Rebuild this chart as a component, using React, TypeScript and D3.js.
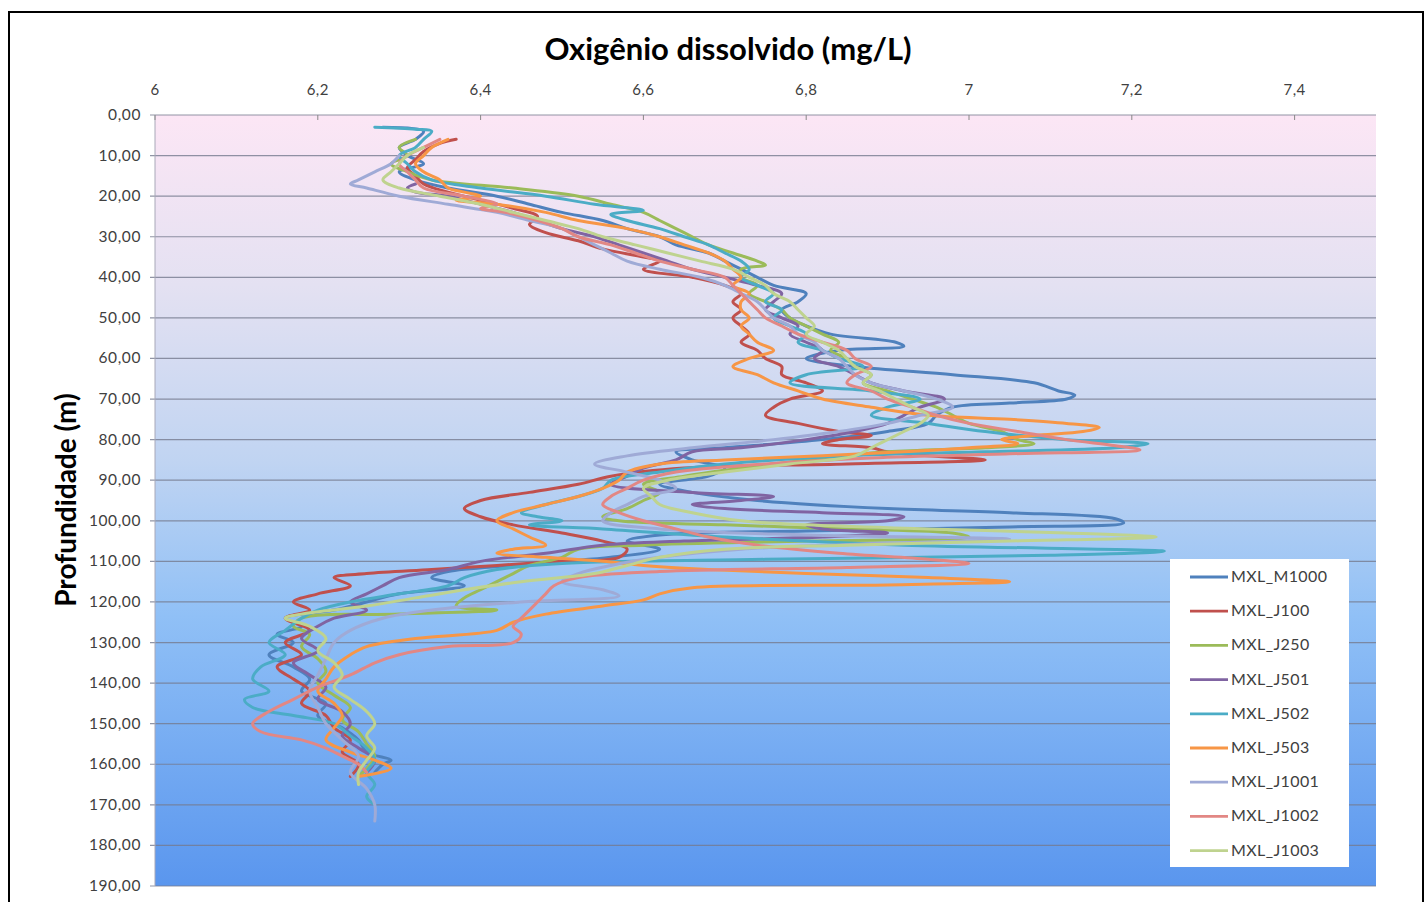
import React from "react";
import * as d3 from "d3";

// Dissolved-oxygen profiles: [depth (m), DO (mg/L)]
const mxlM1000: [number, number][] = [[3,6.28],[4,6.33],[6,6.32],[8,6.30],[10,6.31],[12,6.33],[14,6.30],[16,6.32],[18,6.36],[20,6.42],[22,6.46],[24,6.50],[26,6.55],[28,6.58],[30,6.62],[32,6.64],[34,6.68],[36,6.70],[38,6.72],[40,6.74],[42,6.76],[44,6.80],[46,6.79],[48,6.77],[50,6.78],[52,6.80],[54,6.83],[56,6.91],[57,6.92],[58,6.84],[60,6.80],[62,6.86],[64,6.98],[66,7.08],[68,7.11],[69,7.13],[70,7.12],[71,7.05],[72,6.98],[74,6.96],[76,6.95],[78,6.90],[80,6.82],[82,6.70],[83,6.64],[85,6.66],[87,6.70],[89,6.68],[91,6.62],[93,6.66],[95,6.74],[97,6.90],[98,7.05],[99.5,7.18],[100.5,7.19],[101.5,7.05],[102.5,6.80],[103.5,6.62],[105,6.58],[107,6.62],[109,6.56],[110,6.50],[111,6.44],[112.5,6.36],[114,6.34],[116,6.38],[118,6.30],[120,6.26],[122,6.22],[124,6.16],[126,6.18],[128,6.15],[130,6.17],[133,6.14],[136,6.17],[139,6.19],[142,6.18],[145,6.21],[148,6.20],[151,6.23],[154,6.25],[157,6.26],[159,6.29],[160,6.28],[162,6.27]];
const mxlJ100: [number, number][] = [[6,6.37],[7,6.35],[9,6.33],[11,6.32],[13,6.31],[15,6.32],[17,6.33],[19,6.36],[21,6.40],[23,6.44],[25,6.47],[27,6.46],[29,6.48],[31,6.52],[33,6.55],[35,6.60],[36,6.62],[38,6.60],[40,6.66],[42,6.70],[44,6.72],[46,6.71],[48,6.72],[50,6.71],[52,6.72],[54,6.73],[56,6.72],[58,6.74],[60,6.75],[62,6.77],[64,6.77],[66,6.80],[68,6.82],[70,6.78],[72,6.76],[74,6.75],[76,6.79],[78,6.84],[79,6.88],[80,6.84],[81,6.82],[82,6.88],[83,6.90],[84,6.95],[85,7.02],[86,6.85],[87,6.65],[89,6.56],[91,6.52],[93,6.46],[95,6.40],[97,6.38],[99,6.40],[101,6.44],[103,6.50],[105,6.55],[107,6.58],[109,6.57],[110,6.50],[111,6.42],[112,6.34],[113,6.26],[114,6.22],[116,6.24],[118,6.20],[120,6.17],[122,6.19],[124,6.16],[127,6.19],[130,6.16],[133,6.18],[136,6.15],[139,6.17],[142,6.19],[145,6.18],[148,6.21],[151,6.22],[154,6.24],[157,6.23],[160,6.25],[163,6.24]];
const mxlJ250: [number, number][] = [[6,6.32],[8,6.30],[10,6.31],[12,6.29],[14,6.31],[16,6.34],[18,6.44],[20,6.52],[22,6.56],[24,6.60],[26,6.62],[28,6.64],[30,6.66],[32,6.68],[34,6.71],[36,6.74],[37,6.75],[38,6.72],[40,6.72],[42,6.74],[44,6.73],[46,6.75],[48,6.77],[50,6.78],[52,6.80],[54,6.82],[56,6.84],[58,6.83],[60,6.85],[62,6.86],[64,6.88],[66,6.87],[68,6.90],[70,6.93],[72,6.96],[74,6.98],[76,7.00],[78,7.04],[80,7.06],[81,7.08],[82,7.02],[83,6.90],[85,6.80],[87,6.72],[89,6.65],[91,6.60],[93,6.62],[95,6.60],[97,6.58],[99,6.55],[100,6.57],[101,6.70],[102,6.85],[103,6.98],[104,7.00],[105,6.80],[106,6.60],[107,6.52],[109,6.50],[111,6.46],[113,6.44],[115,6.42],[117,6.40],[119,6.38],[121,6.37],[122,6.42],[123,6.30],[124,6.18],[126,6.17],[128,6.19],[131,6.18],[134,6.20],[137,6.21],[140,6.20],[143,6.22],[146,6.24],[149,6.23],[152,6.25],[155,6.26],[158,6.27],[161,6.26],[163,6.25]];
const mxlJ501: [number, number][] = [[17,6.32],[18,6.31],[19,6.32],[20,6.36],[22,6.40],[24,6.44],[26,6.47],[28,6.50],[30,6.54],[32,6.57],[34,6.60],[36,6.63],[38,6.66],[40,6.70],[42,6.74],[44,6.77],[46,6.76],[48,6.75],[50,6.77],[52,6.79],[54,6.78],[56,6.80],[58,6.82],[60,6.81],[62,6.84],[64,6.86],[66,6.88],[68,6.92],[70,6.97],[72,6.94],[74,6.92],[76,6.90],[78,6.86],[80,6.80],[82,6.72],[83,6.66],[85,6.64],[87,6.60],[89,6.58],[91,6.56],[93,6.66],[94,6.76],[95,6.72],[96,6.66],[97,6.70],[98,6.82],[99,6.92],[100,6.90],[101,6.80],[102,6.82],[103,6.90],[104,6.82],[105,6.65],[106,6.55],[108,6.48],[110,6.40],[112,6.36],[114,6.30],[116,6.28],[118,6.26],[120,6.24],[122,6.26],[124,6.22],[126,6.20],[129,6.18],[132,6.20],[135,6.17],[138,6.19],[141,6.21],[144,6.20],[147,6.23],[150,6.24],[153,6.23],[156,6.25],[159,6.27],[162,6.26]];
const mxlJ502: [number, number][] = [[3,6.27],[3.5,6.32],[4,6.34],[6,6.33],[8,6.32],[10,6.30],[12,6.31],[14,6.32],[16,6.34],[18,6.40],[20,6.48],[22,6.54],[23.5,6.60],[24.5,6.56],[26,6.58],[28,6.62],[30,6.65],[32,6.68],[34,6.70],[36,6.72],[38,6.73],[40,6.72],[42,6.74],[44,6.76],[46,6.75],[48,6.77],[50,6.76],[52,6.78],[54,6.80],[56,6.79],[58,6.82],[60,6.84],[62,6.87],[64,6.80],[66,6.78],[68,6.88],[70,6.94],[72,6.90],[74,6.88],[76,6.95],[78,7.02],[80,7.12],[81,7.22],[82,7.18],[83,7.02],[84,6.85],[86,6.70],[88,6.62],[90,6.56],[92,6.55],[94,6.52],[96,6.48],[98,6.45],[99,6.47],[100,6.50],[101,6.46],[102,6.55],[104,6.70],[106,6.92],[107.5,7.24],[108.5,7.10],[109.5,6.75],[110.5,6.50],[112,6.42],[114,6.38],[116,6.36],[118,6.30],[120,6.24],[122,6.20],[124,6.18],[127,6.16],[130,6.14],[133,6.16],[136,6.13],[139,6.12],[142,6.14],[144,6.11],[146,6.12],[148,6.17],[150,6.22],[153,6.24],[156,6.26],[159,6.27],[162,6.26],[165,6.27],[168,6.26],[170,6.27]];
const mxlJ503: [number, number][] = [[6,6.36],[8,6.34],[10,6.33],[12,6.32],[14,6.33],[16,6.35],[18,6.36],[19,6.38],[20,6.40],[21,6.37],[22,6.42],[24,6.48],[26,6.52],[28,6.58],[30,6.62],[32,6.65],[34,6.68],[36,6.70],[38,6.71],[40,6.72],[42,6.71],[44,6.73],[46,6.72],[48,6.72],[50,6.73],[52,6.72],[54,6.73],[56,6.74],[58,6.76],[60,6.73],[62,6.71],[64,6.74],[66,6.76],[68,6.79],[70,6.82],[72,6.88],[74,6.95],[75,7.05],[76,7.12],[77,7.16],[78,7.14],[79,7.08],[80,7.04],[81,7.06],[82,7.00],[83,6.92],[84,6.82],[85,6.70],[86,6.62],[88,6.58],[90,6.57],[92,6.55],[94,6.52],[96,6.48],[98,6.44],[100,6.42],[102,6.44],[104,6.46],[106,6.48],[107,6.44],[108,6.42],[109,6.48],[110,6.55],[111,6.60],[112,6.68],[113,6.80],[114,6.95],[115,7.05],[115.8,6.90],[116.5,6.66],[118,6.62],[119.5,6.60],[121,6.55],[123,6.48],[125,6.44],[127,6.42],[129,6.32],[131,6.26],[133,6.24],[136,6.22],[139,6.21],[142,6.20],[145,6.22],[148,6.23],[151,6.22],[154,6.21],[157,6.24],[159,6.27],[161,6.29],[163,6.25]];
const mxlJ1001: [number, number][] = [[10,6.30],[12,6.29],[14,6.27],[16,6.25],[17,6.24],[18,6.26],[20,6.30],[22,6.36],[24,6.42],[26,6.46],[28,6.50],[30,6.52],[32,6.54],[34,6.56],[36,6.58],[38,6.62],[40,6.67],[42,6.70],[44,6.72],[46,6.74],[48,6.75],[50,6.76],[52,6.78],[54,6.79],[56,6.81],[58,6.82],[60,6.84],[62,6.85],[64,6.86],[66,6.88],[68,6.92],[70,6.96],[72,6.98],[74,6.94],[76,6.90],[78,6.84],[80,6.76],[82,6.66],[84,6.58],[86,6.54],[88,6.58],[90,6.62],[92,6.64],[94,6.60],[96,6.58],[98,6.56],[100,6.55],[102,6.62],[103.5,6.80],[104.5,7.05],[105.5,6.90],[107,6.72],[109,6.62],[111,6.56],[113,6.52],[115,6.50],[117,6.55],[118.5,6.57],[120,6.45],[122,6.34],[124,6.28],[127,6.24],[130,6.22],[134,6.21],[138,6.20],[142,6.19],[146,6.20],[150,6.21],[154,6.23],[158,6.25],[162,6.24],[166,6.26],[170,6.27],[174,6.27]];
const mxlJ1002: [number, number][] = [[6,6.35],[8,6.33],[10,6.31],[12,6.30],[14,6.31],[16,6.32],[18,6.33],[20,6.38],[22,6.42],[23,6.40],[24,6.43],[26,6.47],[28,6.50],[30,6.52],[32,6.56],[34,6.59],[36,6.62],[38,6.66],[40,6.70],[42,6.71],[44,6.72],[46,6.73],[48,6.74],[50,6.75],[52,6.77],[54,6.79],[56,6.82],[58,6.85],[60,6.86],[62,6.88],[64,6.86],[66,6.85],[68,6.88],[70,6.90],[72,6.93],[74,6.96],[76,7.00],[78,7.06],[80,7.12],[81.5,7.18],[82.5,7.21],[83.5,7.05],[84.5,6.88],[86,6.75],[88,6.64],[90,6.60],[92,6.58],[94,6.56],[96,6.55],[98,6.57],[100,6.60],[102,6.64],[104,6.68],[106,6.74],[108,6.84],[109.5,6.95],[110.5,7.00],[111.5,6.85],[112.5,6.62],[114,6.52],[116,6.49],[118,6.48],[120,6.47],[122,6.46],[124,6.45],[126,6.44],[128,6.45],[130,6.44],[131,6.36],[133,6.30],[135,6.27],[138,6.24],[141,6.20],[144,6.17],[147,6.14],[150,6.12],[152,6.13],[154,6.18],[156,6.21],[158,6.23],[160,6.25],[162,6.26]];
const mxlJ1003: [number, number][] = [[8,6.33],[10,6.31],[12,6.30],[14,6.29],[16,6.28],[18,6.30],[20,6.35],[22,6.40],[24,6.44],[26,6.48],[28,6.52],[30,6.55],[32,6.59],[34,6.63],[36,6.67],[38,6.71],[40,6.73],[42,6.75],[44,6.76],[46,6.78],[48,6.79],[50,6.80],[52,6.81],[54,6.80],[56,6.82],[58,6.84],[60,6.85],[62,6.86],[64,6.88],[66,6.87],[68,6.89],[70,6.91],[72,6.93],[74,6.95],[76,6.94],[78,6.92],[80,6.90],[82,6.88],[84,6.86],[86,6.78],[88,6.70],[90,6.63],[92,6.60],[94,6.61],[96,6.62],[98,6.66],[100,6.72],[101,6.80],[102,6.95],[103,7.12],[104,7.23],[105,7.05],[106,6.85],[107,6.70],[109,6.62],[111,6.58],[113,6.54],[115,6.45],[117,6.38],[119,6.32],[121,6.26],[123,6.18],[124,6.16],[126,6.19],[129,6.21],[132,6.20],[135,6.22],[138,6.23],[141,6.22],[144,6.24],[147,6.26],[150,6.27],[153,6.26],[156,6.27],[159,6.26],[162,6.25],[165,6.25]];

const seriesNames = ["MXL_M1000", "MXL_J100", "MXL_J250", "MXL_J501", "MXL_J502", "MXL_J503", "MXL_J1001", "MXL_J1002", "MXL_J1003"];
const seriesData = [mxlM1000, mxlJ100, mxlJ250, mxlJ501, mxlJ502, mxlJ503, mxlJ1001, mxlJ1002, mxlJ1003];
const seriesColors = ["#4F81BD", "#C0504D", "#9BBB59", "#8064A2", "#4BACC6", "#F79646", "#9FAAD6", "#E28784", "#BFD38F"];

const xTicks = [6, 6.2, 6.4, 6.6, 6.8, 7, 7.2, 7.4];
const depthTicks = d3.range(0, 191, 10);

const W = 1426;
const H = 902;
const plot = { left: 155, right: 1376, top: 115, bottom: 886 };
const FONT = "Lato, 'Open Sans', sans-serif";

const fmtX = (v: number) => (Math.round(v * 10) / 10).toString().replace(".", ",");
const fmtY = (v: number) => v.toFixed(2).replace(".", ",");

export default function App() {
  const x = d3.scaleLinear().domain([6, 7.5]).range([plot.left, plot.right]);
  const y = d3.scaleLinear().domain([0, 190]).range([plot.top, plot.bottom]);
  const line = d3
    .line<[number, number]>()
    .x((d) => x(d[1]))
    .y((d) => y(d[0]))
    .curve(d3.curveCatmullRom.alpha(0.5));

  const legend = { x: 1170, y: 559, w: 179, h: 308, step: 34.2 };

  return (
    <svg width={W} height={H} style={{ position: "absolute", left: 0, top: 0, display: "block" }} fontFamily={FONT}>
      <defs>
        <linearGradient id="plotBg" x1="0" y1="0" x2="0" y2="1">
          <stop offset="0%" stopColor="#FCE6F5" />
          <stop offset="22%" stopColor="#E4E1F2" />
          <stop offset="45%" stopColor="#C0D4F2" />
          <stop offset="65%" stopColor="#90C0F6" />
          <stop offset="100%" stopColor="#5A96EE" />
        </linearGradient>
      </defs>
      <rect x={0} y={0} width={W} height={H} fill="#fff" />
      <rect x={9} y={12} width={1414} height={900} fill="#fff" stroke="#000" strokeWidth={2} />

      <text x={728} y={60} textAnchor="middle" fontSize={31} fontWeight={700} fill="#000">
        Oxigênio dissolvido (mg/L)
      </text>

      <rect x={plot.left} y={plot.top} width={plot.right - plot.left} height={plot.bottom - plot.top} fill="url(#plotBg)" />

      {depthTicks.map((d) => (
        <line key={"g" + d} x1={plot.left - 5} x2={plot.right} y1={y(d)} y2={y(d)} stroke="#767A8E" strokeOpacity={0.8} strokeWidth={1.2} />
      ))}
      <line x1={plot.left} x2={plot.left} y1={plot.top} y2={plot.bottom} stroke="#A8A8B8" strokeWidth={1} />
      {xTicks.map((t) => (
        <line key={"t" + t} x1={x(t)} x2={x(t)} y1={plot.top} y2={plot.top + 5} stroke="#888" strokeWidth={1} />
      ))}

      {xTicks.map((t) => (
        <text key={"xl" + t} x={x(t)} y={95} textAnchor="middle" fontSize={15} letterSpacing={0.5} fill="#404040">
          {fmtX(t)}
        </text>
      ))}
      {depthTicks.map((d) => (
        <text key={"yl" + d} x={141} y={y(d) + 5} textAnchor="end" fontSize={15.5} letterSpacing={0.6} fill="#404040">
          {fmtY(d)}
        </text>
      ))}

      <text transform={`translate(76, 500) rotate(-90)`} textAnchor="middle" fontSize={28} fontWeight={700} fill="#000">
        Profundidade (m)
      </text>

      <g>
        {seriesData.map((s, i) => (
          <path key={seriesNames[i]} d={line(s) ?? ""} fill="none" stroke={seriesColors[i]} strokeWidth={3} strokeLinejoin="round" strokeLinecap="round" />
        ))}
      </g>

      <g>
        <rect x={legend.x} y={legend.y} width={legend.w} height={legend.h} fill="#fff" />
        {seriesNames.map((n, i) => {
          const ly = legend.y + 18 + i * legend.step;
          return (
            <g key={"lg" + n}>
              <line x1={legend.x + 20} x2={legend.x + 58} y1={ly} y2={ly} stroke={seriesColors[i]} strokeWidth={2.8} />
              <text x={legend.x + 61} y={ly + 5} fontSize={16} letterSpacing={0.4} fill="#404040">
                {n}
              </text>
            </g>
          );
        })}
      </g>
    </svg>
  );
}
